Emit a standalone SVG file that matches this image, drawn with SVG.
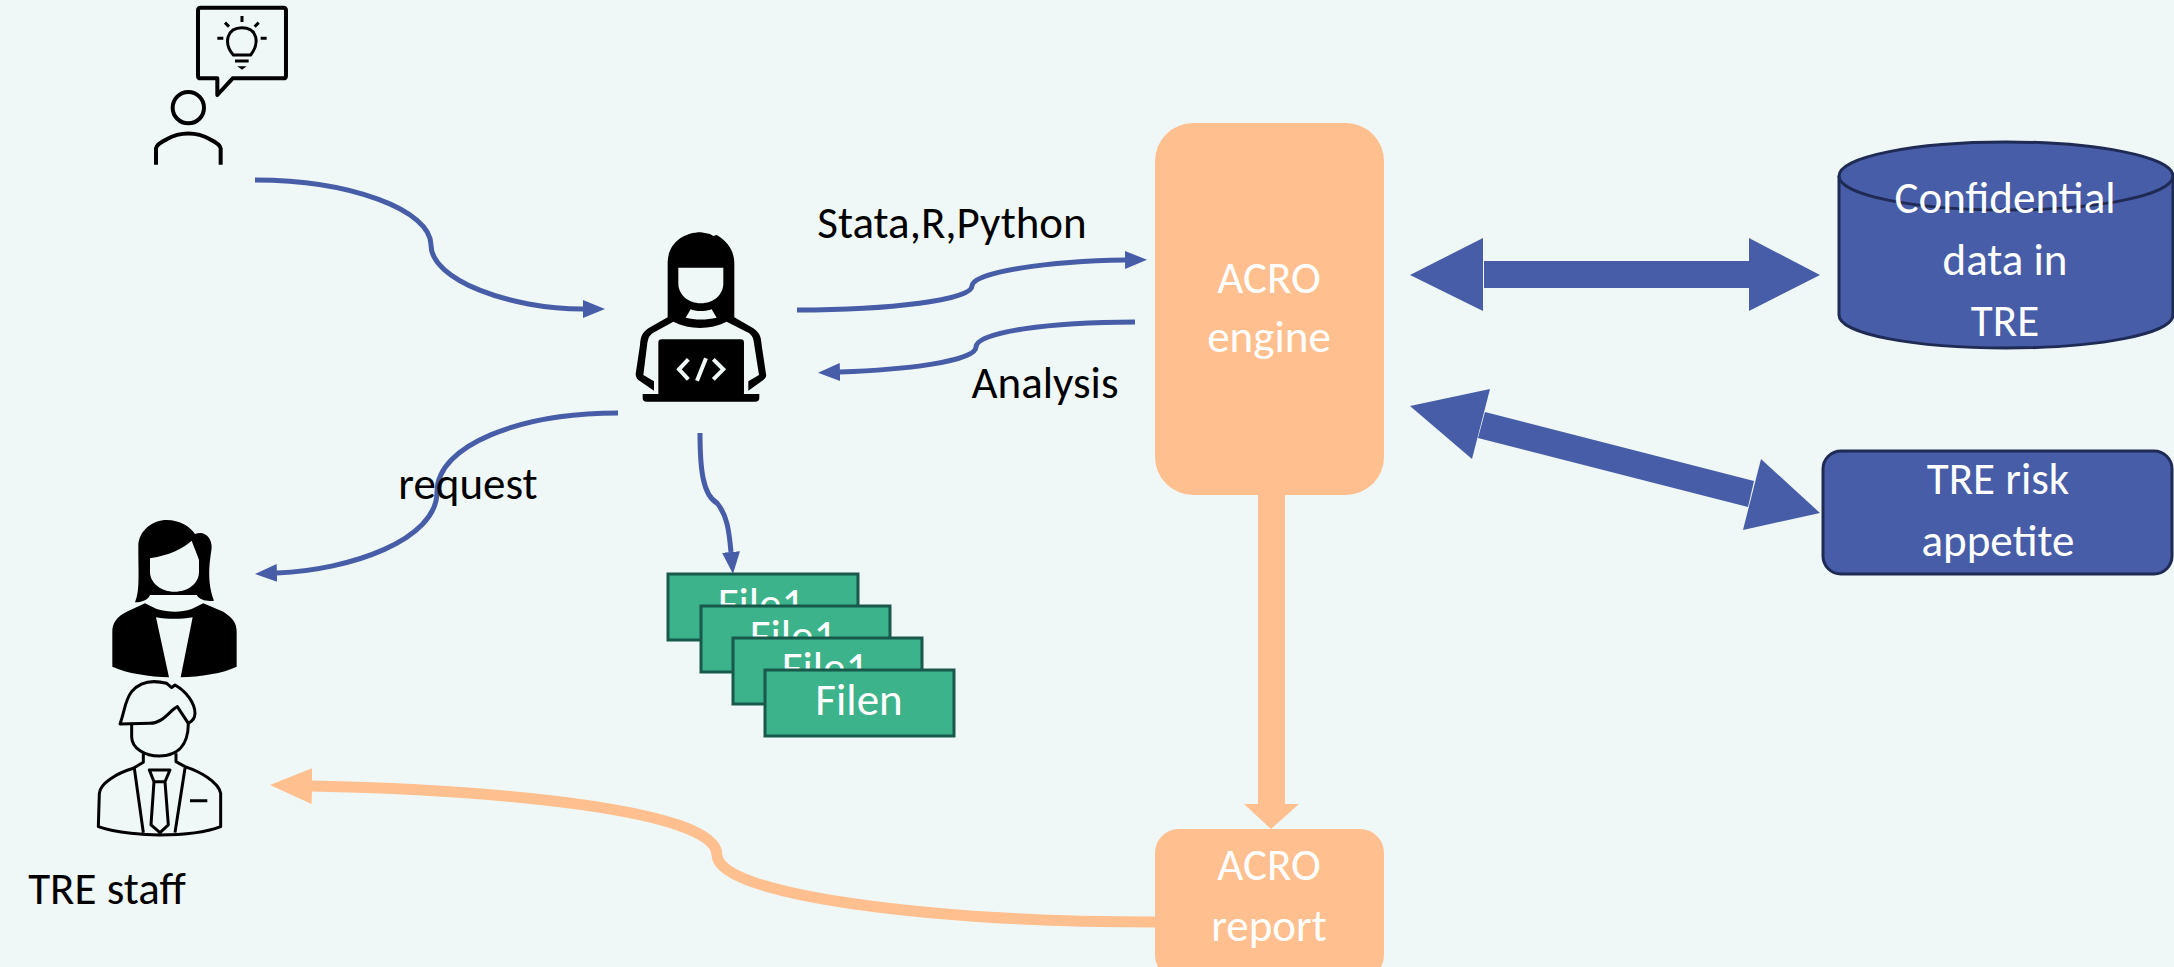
<svg xmlns="http://www.w3.org/2000/svg" width="2174" height="967" viewBox="0 0 2174 967">
<style>
text{font-family:Carlito,Lato,"Liberation Sans",sans-serif;font-size:45px;text-anchor:middle}
.w{fill:#fff}.k{fill:#000}
.c{fill:none;stroke:#475da7;stroke-width:5}
.bl{fill:#475da7}
.or{fill:#ffbf8e}
.d{fill:#475da7;stroke:#1f2a55;stroke-width:3}
.f{fill:#3cb38b;stroke:#17594a;stroke-width:3}
.i{fill:none;stroke:#000;stroke-linecap:butt;stroke-linejoin:round}
.bg{fill:#eff8f6}
</style>
<defs>
<marker id="a" viewBox="0 0 22 18" refX="0" refY="9" markerWidth="22" markerHeight="18" markerUnits="userSpaceOnUse" orient="auto"><path d="M0 0L22 9L0 18Z" fill="#475da7"/></marker>
<marker id="o" viewBox="0 0 42 36" refX="0" refY="18" markerWidth="42" markerHeight="36" markerUnits="userSpaceOnUse" orient="auto"><path d="M0 0L42 18L0 36Z" fill="#ffbf8e"/></marker>
</defs>
<rect width="2174" height="967" class="bg"/>
<g id="connectors">
<path class="c" marker-end="url(#a)" d="M255 180C350 180 431 210 431 245C431 280 510 309 583 309"/>
<path class="c" marker-end="url(#a)" d="M797 310C890 310 972 300 972 286C972 272 1050 261 1125 260"/>
<path class="c" marker-end="url(#a)" d="M1135 322C1050 322 976 332 976 347C976 362 900 370 840 372"/>
<path class="c" marker-end="url(#a)" d="M618 413C520 413 437 445 437 492C437 540 350 570 277 573"/>
<path class="c" marker-end="url(#a)" d="M700 433C700 470 703 495 717 503C727 515 729 530 731 552"/>
<path fill="none" stroke="#ffbf8e" stroke-width="11" marker-end="url(#o)" d="M1155 922C930 922 717 895 717 855C717 810 500 790 312 786"/>
<path class="or" d="M1258 495H1285V804H1299L1271 829L1244 804H1258Z"/>
<path class="bl" d="M1410 275L1483 238V311Z"/><rect class="bl" x="1484" y="261" width="265" height="27"/><path class="bl" d="M1820 275L1749 238V311Z"/>
<path class="bl" d="M1410 406L1490 389L1472 459Z"/><path class="bl" d="M1485 412L1478 438L1748 507L1754 481Z"/><path class="bl" d="M1820 513L1761 459L1743 530Z"/>
</g>
<g id="requester">
<g transform="translate(130 0) scale(.3333)">
<path class="i" stroke-width="12" d="M212 23H460Q468 23 468 31V227Q468 235 460 235H308L262 285V235H212Q204 235 204 227V31Q204 23 212 23Z"/>
<path class="i" stroke-width="9" d="M310 165C280 130 290 83 336 83C382 83 390 130 362 165Z"/>
<path class="i" stroke-width="9" d="M315 183H356M336 48V66M285 68L297 80M386 68L374 80M262 115H280M392 115H410"/>
<path d="M322 199H350L336 209Z"/>
<circle class="i" stroke-width="12" cx="175" cy="323" r="47"/>
<path class="i" stroke-width="12" d="M78 494V445Q80 432 110 418C150 395 200 395 240 418Q270 432 272 445V494"/>
</g>
</g>
<g id="researcher">
<g transform="translate(620 220) scale(.3333)">
<path d="M143 292V130C143 70 190 37 243 37L270 42L280 48L290 45C325 65 343 95 343 130V292L400 325C420 340 423 350 425 375L438 462C440 470 437 473 430 480L385 512V484L417 465L402 370C400 350 395 345 385 338L320 305C270 330 210 330 160 305L100 338C90 345 85 350 82 370L70 465L102 484V512L55 480C50 475 47 470 47 462L60 375C62 350 65 340 85 325Z"/>
<path class="bg" d="M175 143H310V190C310 225 280 250 243 250C205 250 175 225 175 190Z"/>
<path class="bg" d="M212 268C225 275 260 275 275 268L290 293C260 300 225 300 197 293Z"/>
<rect x="115" y="358" width="257" height="170" rx="10"/>
<path d="M68 522H418V533Q418 545 405 545H80Q68 545 68 533Z"/>
<path fill="none" stroke="#eff8f6" stroke-width="12" d="M205 418L177 448L205 478M258 415L231 482M280 418L310 448L280 478"/>
</g>
</g>
<g id="tre-staff">
<g transform="translate(90 510) scale(.3333)">
<path d="M135 277C150 240 145 200 145 110C145 60 190 30 230 30C270 30 300 50 315 72C345 60 365 85 365 110C365 130 345 200 372 272C350 275 330 270 320 255H180C175 270 155 277 135 277Z"/>
<path class="bg" d="M180 145C240 135 280 115 305 92C315 120 325 140 327 150V185C327 220 295 245 253 245C215 245 180 220 180 185Z"/>
<path d="M165 280L200 297C240 308 270 308 305 297L340 280L400 305C430 325 440 340 440 365V470C400 490 330 500 272 502L308 322C270 328 235 328 198 322L237 502C180 500 110 490 67 470V365C67 340 80 320 110 305Z"/>
<path class="i" stroke-width="9" d="M90 642C105 600 105 570 125 545C150 515 190 510 230 520L245 533L255 525C290 545 315 580 315 610C315 625 305 635 295 640L262 590C240 600 220 640 180 640Z"/>
<path class="i" stroke-width="9" d="M125 645V680C125 715 165 738 208 738C255 738 295 715 295 640"/>
<path class="i" stroke-width="9" d="M160 730V757L130 775C80 790 30 820 28 850L25 950C80 970 170 975 208 975C260 975 340 970 392 950V850C385 815 330 785 285 770L258 755V730M133 775L160 968M285 775L255 968M178 780H240L225 815H192ZM192 815L183 945L210 968L235 945L225 815M300 872H352"/>
</g>
<text class="k" x="107" y="904">TRE staff</text>
</g>
<g id="acro-engine"><rect class="or" x="1155" y="123" width="229" height="372" rx="38"/><text class="w" x="1269" y="293">ACRO</text><text class="w" x="1269" y="352">engine</text></g>
<g id="acro-report"><rect class="or" x="1155" y="829" width="229" height="150" rx="24"/><text class="w" x="1269" y="880">ACRO</text><text class="w" x="1269" y="941">report</text></g>
<g id="data"><path class="d" d="M1839 176C1839 157 1914 142 2006 142C2098 142 2173 157 2173 176V315C2173 334 2098 348 2006 348C1914 348 1839 334 1839 315Z"/><path fill="none" stroke="#1f2a55" stroke-width="3" d="M1839 176C1839 195 1914 210 2006 210C2098 210 2173 195 2173 176"/><text class="w" x="2005" y="213">Confidential</text><text class="w" x="2005" y="275">data in</text><text class="w" x="2005" y="336">TRE</text></g>
<g id="risk"><rect class="d" x="1823" y="451" width="349" height="123" rx="18"/><text class="w" x="1998" y="494">TRE risk</text><text class="w" x="1998" y="556">appetite</text></g>
<g id="file1"><rect class="f" x="668" y="574" width="190" height="66"/><text class="w" x="761" y="619">File1</text></g>
<g id="file2"><rect class="f" x="701" y="606" width="189" height="66"/><text class="w" x="793" y="651">File1</text></g>
<g id="file3"><rect class="f" x="733" y="638" width="189" height="66"/><text class="w" x="825" y="683">File1</text></g>
<g id="filen"><rect class="f" x="765" y="670" width="189" height="66"/><text class="w" x="859" y="715">Filen</text></g>
<g id="labels">
<text class="k" x="952" y="238">Stata,R,Python</text>
<text class="k" x="1045" y="398">Analysis</text>
<text class="k" x="468" y="499">request</text>
</g>
</svg>
